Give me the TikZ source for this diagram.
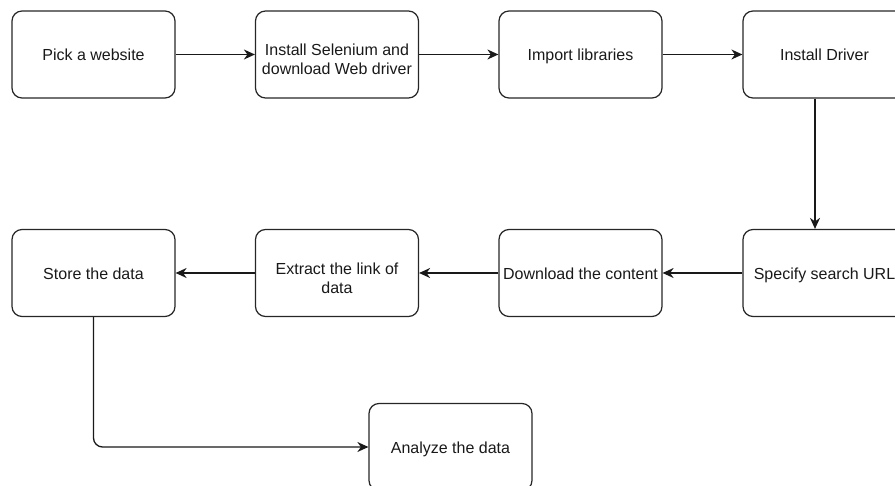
\documentclass[tikz,border=0pt]{standalone}
\usepackage{fontspec}
\setmainfont{Liberation Sans}
\usetikzlibrary{arrows.meta}
\begin{document}
\begin{tikzpicture}[x=1pt,y=-1pt,
  box/.style={draw=black!85, line width=1.2pt, rounded corners=10pt, minimum width=163pt, minimum height=87pt,
    inner sep=0pt, align=center, font=\fontsize{16}{19}\selectfont, text=black!90,
    text height=13pt, text depth=0pt},
  box2/.style={box, text height=40.5pt, text depth=0pt},
  arr/.style={draw=black!90, line width=1.3pt, -{Stealth[length=11pt,width=10pt,inset=3.5pt]}}]
\useasboundingbox (0,0) rectangle (895,486);
\clip (0,0) rectangle (895,486);
\node[box] (a) at (93.5,54.5) {Pick a website};
\node[box2] (b) at (337,54.5) {Install Selenium and\\download Web driver};
\node[box] (c) at (580.5,54.5) {Import libraries};
\node[box] (d) at (824.5,54.5) {Install Driver};
\node[box] (e) at (824.5,273) {Specify search URL};
\node[box] (f) at (580.5,273) {Download the content};
\node[box2] (g) at (337,273) {Extract the link of\\data};
\node[box] (h) at (93.5,273) {Store the data};
\node[box] (i) at (450.5,447) {Analyze the data};
\draw[arr] (a) -- (b);
\draw[arr] (b) -- (c);
\draw[arr] (c) -- (d);
\draw[arr] ([xshift=-9.5pt]d.south) -- ([xshift=-9.5pt]e.north);
\draw[arr] (e) -- (f);
\draw[arr] (f) -- (g);
\draw[arr] (g) -- (h);
\draw[arr, rounded corners=9pt] (h.south) -- (h.south |- i.west) -- (i.west);
\end{tikzpicture}
\end{document}
